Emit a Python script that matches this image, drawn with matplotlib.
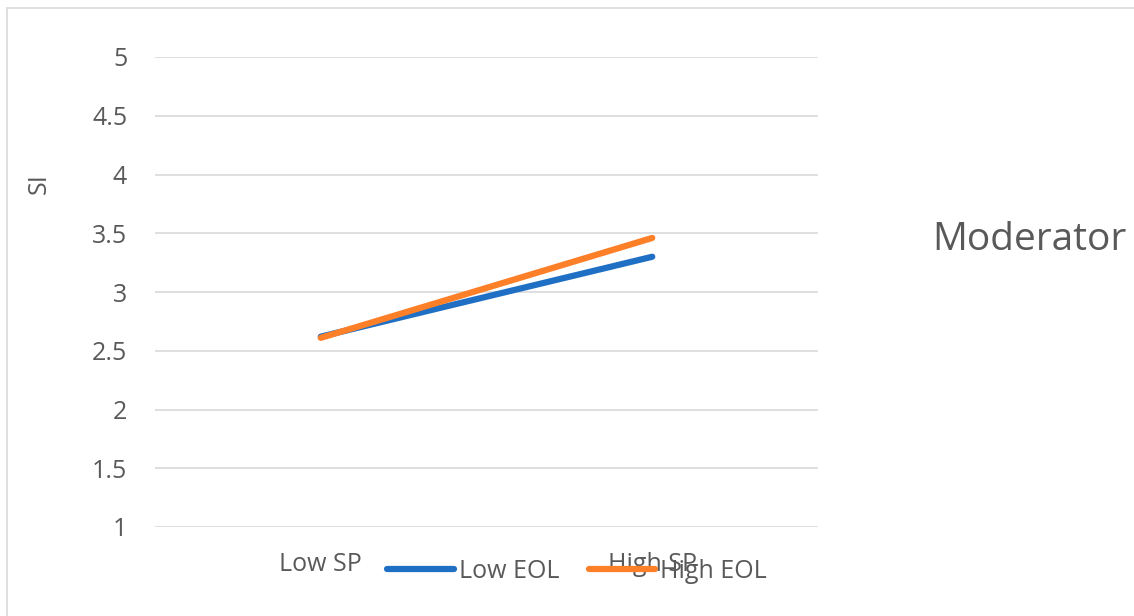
import matplotlib
matplotlib.use('Agg')
import matplotlib.pyplot as plt
from matplotlib.patches import Rectangle

categories = ["Low SP", "High SP"]
low_eol = [2.62, 3.30]
high_eol = [2.61, 3.46]
yticks = [1, 1.5, 2, 2.5, 3, 3.5, 4, 4.5, 5]

grey = '#595959'
fs = 18
plt.rcParams['font.family'] = ['Open Sans', 'DejaVu Sans']

fig = plt.figure(figsize=(11.34, 6.16), dpi=100)
# chart area frame
fig.patches.append(Rectangle((7/1134, -0.1), 1.2, 1 - 8/616 + 0.1, transform=fig.transFigure,
                             fill=False, edgecolor='#d9d9d9', linewidth=1.2))

ax = fig.add_axes([155/1134, 1 - 527/616, (818 - 155)/1134, (527 - 57)/616])
x = [0.5, 1.5]
ax.plot(x, low_eol, color='#1f70c4', linewidth=4.5, solid_capstyle='round', label='Low EOL')
ax.plot(x, high_eol, color='#fd7f28', linewidth=4.5, solid_capstyle='round', label='High EOL')

ax.set_xlim(0, 2)
ax.set_ylim(1, 5)
ax.set_yticks(yticks)
ax.set_yticklabels([f"{t:g}" for t in yticks])
ax.set_xticks(x)
ax.set_xticklabels(categories)
ax.yaxis.grid(True, color='#d9d9d9', linewidth=1.2)
ax.set_axisbelow(True)
for s in ax.spines.values():
    s.set_visible(False)
ax.tick_params(axis='y', length=0, pad=20, labelsize=fs, labelcolor=grey)
ax.tick_params(axis='x', length=0, pad=18, labelsize=fs, labelcolor=grey)
ax.set_ylabel("SI", fontsize=fs, color=grey)
ax.yaxis.set_label_coords(-0.155, 0.73)

leg = fig.legend(loc='center', bbox_to_anchor=(0.509, 0.072), ncol=2, frameon=False,
                 fontsize=fs, handlelength=2.65, handletextpad=0.2, columnspacing=1.2)
for t in leg.get_texts():
    t.set_color(grey)

fig.text(932/1134, 1 - 240/616, "Moderator", fontsize=28, color=grey, va='center', ha='left')

fig.savefig("out.png", dpi=100)
